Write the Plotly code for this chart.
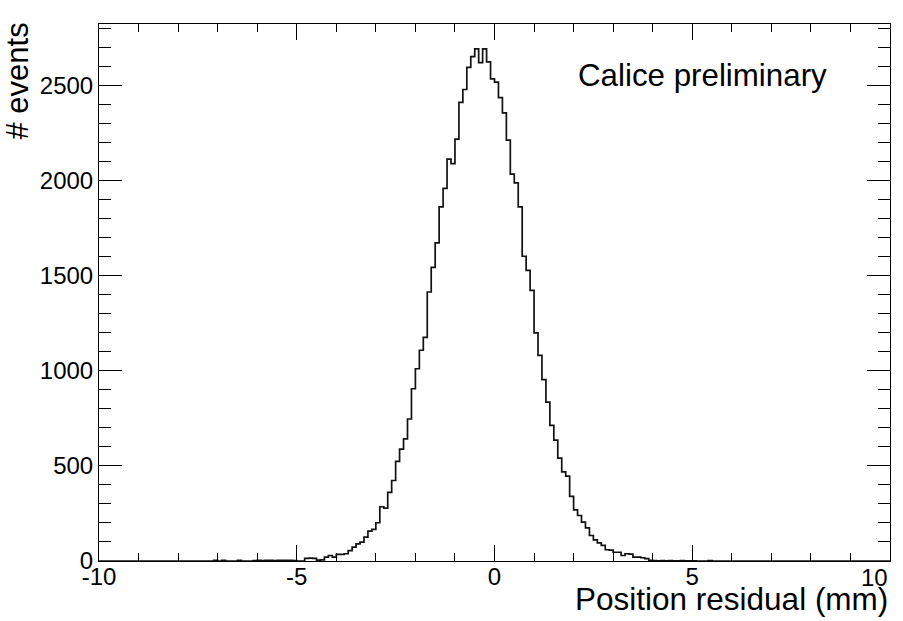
import plotly.graph_objects as go

# Histogram definition: 200 bins of width 0.1 from -10 to 10
x_low = -10.0
x_high = 10.0
n_bins = 200

# Bin contents, bin 0 = [-10.0, -9.9)
counts = (
    [0] * 29
    + [3, 0, 3, 0, 0, 0, 3, 0, 0, 0, 2]                       # bins 29-39
    + [3, 2, 3, 3, 2, 3, 3, 3, 4, 2]                          # bins 40-49
    + [0, 0, 14, 15, 14, 5, 6, 20, 29, 20]                    # bins 50-59
    + [35, 35, 38, 55, 73, 90, 99, 125, 157, 166]             # bins 60-69
    + [201, 285, 278, 360, 423, 523, 588, 642, 746, 905]      # bins 70-79
    + [1010, 1107, 1175, 1413, 1543, 1671, 1860, 1957, 2111, 2088]  # 80-89
    + [2216, 2409, 2477, 2593, 2650, 2690, 2618, 2690, 2622, 2533]  # 90-99
    + [2516, 2434, 2354, 2211, 2032, 1986, 1860, 1601, 1527, 1422]  # 100-109
    + [1198, 1080, 953, 835, 712, 635, 540, 468, 446, 339]    # 110-119
    + [269, 239, 204, 174, 134, 111, 95, 82, 59, 57]          # 120-129
    + [46, 46, 29, 38, 36, 20, 20, 17, 12, 4]                 # 130-139
    + [2, 1, 2, 1, 2, 1, 1, 2, 1, 1]                          # 140-149
    + [1, 0, 0, 0, 2, 0, 0, 0, 0, 0]                          # 150-159
    + [0] * 40                                                # 160-199
)

x_ticks = [-10, -5, 0, 5, 10]
x_tick_labels = ["-10", "-5", "0", "5", "10"]
y_ticks = [0, 500, 1000, 1500, 2000, 2500]

x_title = "Position residual (mm)"
y_title = "# events"
label_text = "Calice preliminary"

bin_w = (x_high - x_low) / n_bins
edges = [x_low + i * bin_w for i in range(n_bins + 1)]
xs = edges
ys = counts + [counts[-1]]

FONT = "Liberation Sans, Arial, Helvetica, sans-serif"

fig = go.Figure()
fig.add_trace(go.Scatter(
    x=xs, y=ys, mode="lines", line_shape="hv",
    line=dict(color="#111111", width=1.7),
    hoverinfo="skip", showlegend=False,
))

fig.update_layout(
    width=903, height=621,
    margin=dict(l=99, r=13, t=24, b=60, pad=0, autoexpand=False),
    paper_bgcolor="white", plot_bgcolor="white",
    font=dict(family=FONT, size=24, color="black"),
    showlegend=False,
)

# the last x label ("10") is shifted left to stay inside the frame, as ROOT does
fig.update_xaxes(
    range=[x_low, x_high], tickvals=x_ticks[:-1], ticktext=x_tick_labels[:-1],
    ticks="inside", ticklen=16, tickwidth=1, tickcolor="black",
    showline=True, linecolor="black", linewidth=1, mirror="ticks",
    showgrid=False, zeroline=False, automargin=False,
    minor=dict(dtick=1, ticks="inside", ticklen=8, tickwidth=1, tickcolor="black", showgrid=False),
    tickfont=dict(family=FONT, size=24, color="black"),
    ticklabelstandoff=-6,
)
fig.update_yaxes(
    range=[0, 2821], tickvals=y_ticks, ticktext=[str(v) for v in y_ticks],
    ticks="inside", ticklen=23, tickwidth=1, tickcolor="black",
    showline=True, linecolor="black", linewidth=1, mirror="ticks",
    showgrid=False, zeroline=False, automargin=False,
    minor=dict(dtick=100, ticks="inside", ticklen=12, tickwidth=1, tickcolor="black", showgrid=False),
    tickfont=dict(family=FONT, size=24, color="black"),
    ticklabelstandoff=0,
)

fig.add_annotation(
    text=x_tick_labels[-1], xref="x", yref="paper", x=x_ticks[-1], y=-0.031,
    xanchor="right", yanchor="middle", showarrow=False,
    font=dict(family=FONT, size=24, color="black"),
)
fig.add_annotation(
    text=x_title, xref="paper", yref="paper", x=1.0, y=-0.070,
    xanchor="right", yanchor="middle", showarrow=False,
    font=dict(family=FONT, size=31.5, color="black"),
)
fig.add_annotation(
    text=y_title, xref="paper", yref="paper", x=-0.128, y=1.006,
    xanchor="left", yanchor="top", textangle=-90, showarrow=False,
    font=dict(family=FONT, size=31, color="black"),
)
fig.add_annotation(
    text=label_text, xref="paper", yref="paper", x=0.6025, y=0.905,
    xanchor="left", yanchor="middle", showarrow=False,
    font=dict(family=FONT, size=31.3, color="black"),
)

fig.write_html("out.html")
